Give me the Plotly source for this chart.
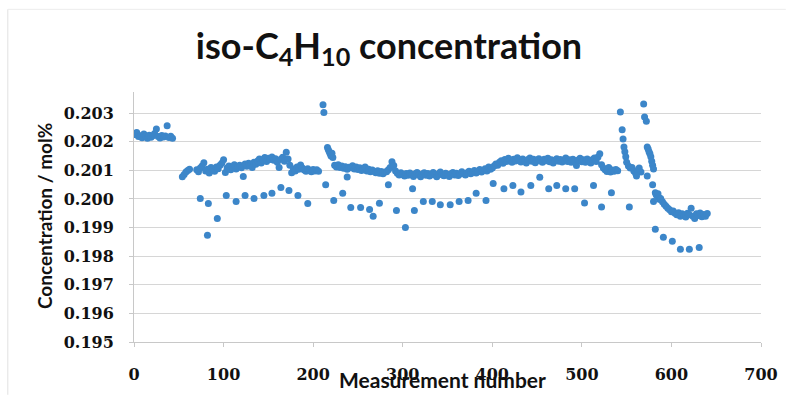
import plotly.graph_objects as go

# ---- data ----
seg_a_n = list(range(1, 45, 2))
seg_a_v = [0.20225, 0.20232, 0.20218, 0.20221, 0.20214, 0.20227, 0.20219, 0.20212,
           0.20223, 0.20216, 0.20221, 0.20229, 0.20245, 0.20218, 0.20213, 0.20222,
           0.20217, 0.20220, 0.20256, 0.20215, 0.20219, 0.20212]

seg_b_n = [54, 56, 58, 60, 62]
seg_b_v = [0.20078, 0.20086, 0.20094, 0.20100, 0.20104]

seg_c_n = list(range(70, 207, 2))
seg_c_v = [0.20102, 0.20095, 0.20108, 0.20115, 0.20127, 0.20098, 0.20104, 0.20091,
           0.20110, 0.20103, 0.20097, 0.20112, 0.20106, 0.20118, 0.20125, 0.20137,
           0.20093, 0.20108, 0.20115, 0.20102, 0.20111, 0.20120, 0.20105, 0.20113,
           0.20118, 0.20109, 0.20079, 0.20122, 0.20114, 0.20125, 0.20118, 0.20110,
           0.20128, 0.20121, 0.20133, 0.20140, 0.20126, 0.20137, 0.20145, 0.20131,
           0.20142, 0.20138, 0.20147, 0.20135, 0.20141, 0.20128, 0.20110, 0.20139,
           0.20146, 0.20132, 0.20163, 0.20140, 0.20118, 0.20092, 0.20105, 0.20098,
           0.20112, 0.20104, 0.20119, 0.20108, 0.20101, 0.20097, 0.20106, 0.20100,
           0.20095, 0.20103, 0.20098, 0.20102, 0.20097]

spike1_n = [211, 212, 216, 217, 218, 219, 220, 221, 222]
spike1_v = [0.20329, 0.20302, 0.20180, 0.20172, 0.20165, 0.20158, 0.20150, 0.20160, 0.20145]

seg_d_n = list(range(224, 281, 2))
seg_d_v = [0.20118, 0.20112, 0.20120, 0.20110, 0.20115, 0.20107, 0.20113, 0.20104,
           0.20111, 0.20109, 0.20116, 0.20105, 0.20112, 0.20103, 0.20109, 0.20100,
           0.20106, 0.20112, 0.20098, 0.20104, 0.20095, 0.20101, 0.20097, 0.20092,
           0.20099, 0.20090, 0.20096, 0.20088, 0.20094]

seg_e_n = list(range(282, 399, 2))
seg_e_v = [0.20095, 0.20102, 0.20110, 0.20130, 0.20117, 0.20098, 0.20090, 0.20084,
           0.20092, 0.20086, 0.20080, 0.20089, 0.20083, 0.20091, 0.20085, 0.20079,
           0.20088, 0.20093, 0.20084, 0.20078, 0.20087, 0.20092, 0.20083, 0.20089,
           0.20080, 0.20086, 0.20093, 0.20084, 0.20078, 0.20088, 0.20094, 0.20085,
           0.20081, 0.20090, 0.20086, 0.20079, 0.20088, 0.20093, 0.20084, 0.20090,
           0.20082, 0.20087, 0.20095, 0.20089, 0.20084, 0.20092, 0.20097, 0.20088,
           0.20094, 0.20100, 0.20091, 0.20097, 0.20103, 0.20094, 0.20100, 0.20106,
           0.20098, 0.20112, 0.20104]

seg_f_n = list(range(400, 521, 2))
seg_f_v = [0.20108, 0.20115, 0.20122, 0.20118, 0.20128, 0.20134, 0.20125, 0.20138,
           0.20131, 0.20142, 0.20136, 0.20128, 0.20139, 0.20133, 0.20144, 0.20137,
           0.20129, 0.20140, 0.20134, 0.20126, 0.20138, 0.20143, 0.20132, 0.20139,
           0.20127, 0.20136, 0.20141, 0.20133, 0.20128, 0.20139, 0.20134, 0.20142,
           0.20130, 0.20137, 0.20126, 0.20135, 0.20141, 0.20132, 0.20138, 0.20129,
           0.20136, 0.20143, 0.20131, 0.20137, 0.20128, 0.20139, 0.20133, 0.20117,
           0.20136, 0.20142, 0.20130, 0.20137, 0.20128, 0.20140, 0.20134, 0.20126,
           0.20138, 0.20143, 0.20131, 0.20147, 0.20158]

seg_g_n = list(range(522, 541, 2))
seg_g_v = [0.20120, 0.20108, 0.20102, 0.20096, 0.20110, 0.20094, 0.20101, 0.20097,
           0.20103, 0.20099]

spike2_n = [543, 545, 546, 547, 548, 549, 550, 552, 554, 556, 558, 560, 562, 564, 566]
spike2_v = [0.20304, 0.20242, 0.20210, 0.20182, 0.20165, 0.20148, 0.20128, 0.20115,
            0.20108, 0.20110, 0.20098, 0.20090, 0.20100, 0.20108, 0.20094]

spike3_n = [569, 570, 572, 573, 574, 575, 576, 577, 578, 579, 580,
            582, 583, 584, 585, 586, 587]
spike3_v = [0.20332, 0.20287, 0.20272, 0.20182, 0.20175, 0.20165, 0.20158, 0.20148,
            0.20132, 0.20118, 0.20105, 0.20022, 0.20015, 0.20010, 0.20018, 0.20005,
            0.19998]

seg_h_n = list(range(588, 641, 2))
seg_h_v = [0.20002, 0.19990, 0.19982, 0.19975, 0.19968, 0.19962, 0.19955, 0.19958,
           0.19950, 0.19945, 0.19952, 0.19940, 0.19948, 0.19943, 0.19937, 0.19950,
           0.19945, 0.19968, 0.19940, 0.19932, 0.19948, 0.19942, 0.19951, 0.19938,
           0.19946, 0.19940, 0.19949]

outlier_n = [74, 83, 82, 93, 103, 114, 124, 134, 145, 154, 164, 173, 183, 194,
             214, 223, 233, 238, 242, 253, 263, 267, 274, 284, 293, 303, 311, 313,
             323, 333, 342, 353, 363, 373, 382, 393, 401, 413, 423, 432, 443, 453,
             463, 472, 482, 492, 503, 513, 522, 533, 553, 561, 573, 579, 580, 582,
             591, 601, 610, 620, 631]
outlier_v = [0.20002, 0.19984, 0.19873, 0.19932, 0.20012, 0.19991, 0.20012, 0.20002,
             0.20012, 0.20020, 0.20040, 0.20030, 0.20012, 0.19984, 0.20050, 0.19995,
             0.20020, 0.20077, 0.19970, 0.19970, 0.19963, 0.19940, 0.19985, 0.20050,
             0.19960, 0.19900, 0.20036, 0.19960, 0.19991, 0.19991, 0.19980, 0.19980,
             0.19991, 0.19995, 0.20020, 0.19995, 0.20054, 0.20036, 0.20047, 0.20024,
             0.20047, 0.20076, 0.20036, 0.20047, 0.20036, 0.20036, 0.19986, 0.20047,
             0.19972, 0.20022, 0.19972, 0.20080, 0.20080, 0.20050, 0.19991, 0.19894,
             0.19866, 0.19852, 0.19824, 0.19824, 0.19830]

x_ticks = [0, 100, 200, 300, 400, 500, 600, 700]
y_ticks = [0.195, 0.196, 0.197, 0.198, 0.199, 0.200, 0.201, 0.202, 0.203]
y_tick_text = ["0.195", "0.196", "0.197", "0.198", "0.199", "0.200", "0.201", "0.202", "0.203"]

# ---- assemble series ----
meas_n = (seg_a_n + seg_b_n + seg_c_n + spike1_n + seg_d_n + seg_e_n + seg_f_n
          + seg_g_n + spike2_n + spike3_n + seg_h_n + outlier_n)
meas_v = (seg_a_v + seg_b_v + seg_c_v + spike1_v + seg_d_v + seg_e_v + seg_f_v
          + seg_g_v + spike2_v + spike3_v + seg_h_v + outlier_v)

BLUE = "#3C86C9"
fig = go.Figure()
fig.add_trace(go.Scatter(
    x=meas_n, y=meas_v, mode="markers",
    marker=dict(symbol="circle", size=7, color=BLUE, line=dict(width=0)),
    showlegend=False,
))

PL, PR, PT, PB = 134, 25, 92, 53
W, H = 790, 396
pw, ph = W - PL - PR, H - PT - PB

def px_x(v):
    return (v - PL) / pw

def px_y(v):
    return (H - PB - v) / ph

fig.update_layout(
    width=W, height=H,
    margin=dict(l=PL, r=PR, t=PT, b=PB, pad=0),
    paper_bgcolor="white", plot_bgcolor="white",
    title=dict(
        text="iso-C<sub>4</sub>H<sub>10</sub> concentration",
        x=389 / W, xref="container", xanchor="center",
        y=1 - 46 / H, yref="container", yanchor="middle",
        font=dict(family="Lato", size=36, color="#111111", weight="bold"),
    ),
    xaxis=dict(
        range=[0, 700], tickvals=x_ticks, ticktext=[str(t) for t in x_ticks],
        showgrid=False, zeroline=False,
        showline=True, linecolor="#c8c8c8", linewidth=1,
        ticks="outside", ticklen=4, tickcolor="#c8c8c8",
        tickfont=dict(family="DejaVu Serif", size=16, color="#111111", weight="bold"),
        ticklabelstandoff=14,
    ),
    yaxis=dict(
        range=[0.195, 0.20374], tickvals=y_ticks, ticktext=y_tick_text,
        showgrid=True, gridcolor="#d6d6d6", gridwidth=1, zeroline=False,
        showline=True, linecolor="#c8c8c8", linewidth=1,
        ticks="outside", ticklen=4, tickcolor="#c8c8c8",
        tickfont=dict(family="DejaVu Serif", size=16, color="#111111", weight="bold"),
        ticklabelstandoff=12,
    ),
    annotations=[
        dict(text="<b>Measurement number</b>", xref="paper", yref="paper",
             x=px_x(444), y=px_y(381), xanchor="center", yanchor="middle",
             showarrow=False, font=dict(family="Lato", size=21, color="#111111")),
        dict(text="<b>Concentration / mol%</b>", xref="paper", yref="paper",
             x=px_x(44), y=px_y(217), xanchor="center", yanchor="middle",
             textangle=-90, showarrow=False,
             font=dict(family="Lato", size=19, color="#111111")),
    ],
    shapes=[
        dict(type="line", xref="paper", yref="paper",
             x0=px_x(7), x1=px_x(7), y0=px_y(9), y1=px_y(396),
             line=dict(color="#e2e2e2", width=1)),
        dict(type="line", xref="paper", yref="paper",
             x0=px_x(7), x1=px_x(790), y0=px_y(9), y1=px_y(9),
             line=dict(color="#ececec", width=1)),
    ],
)

fig.write_html("out.html")
